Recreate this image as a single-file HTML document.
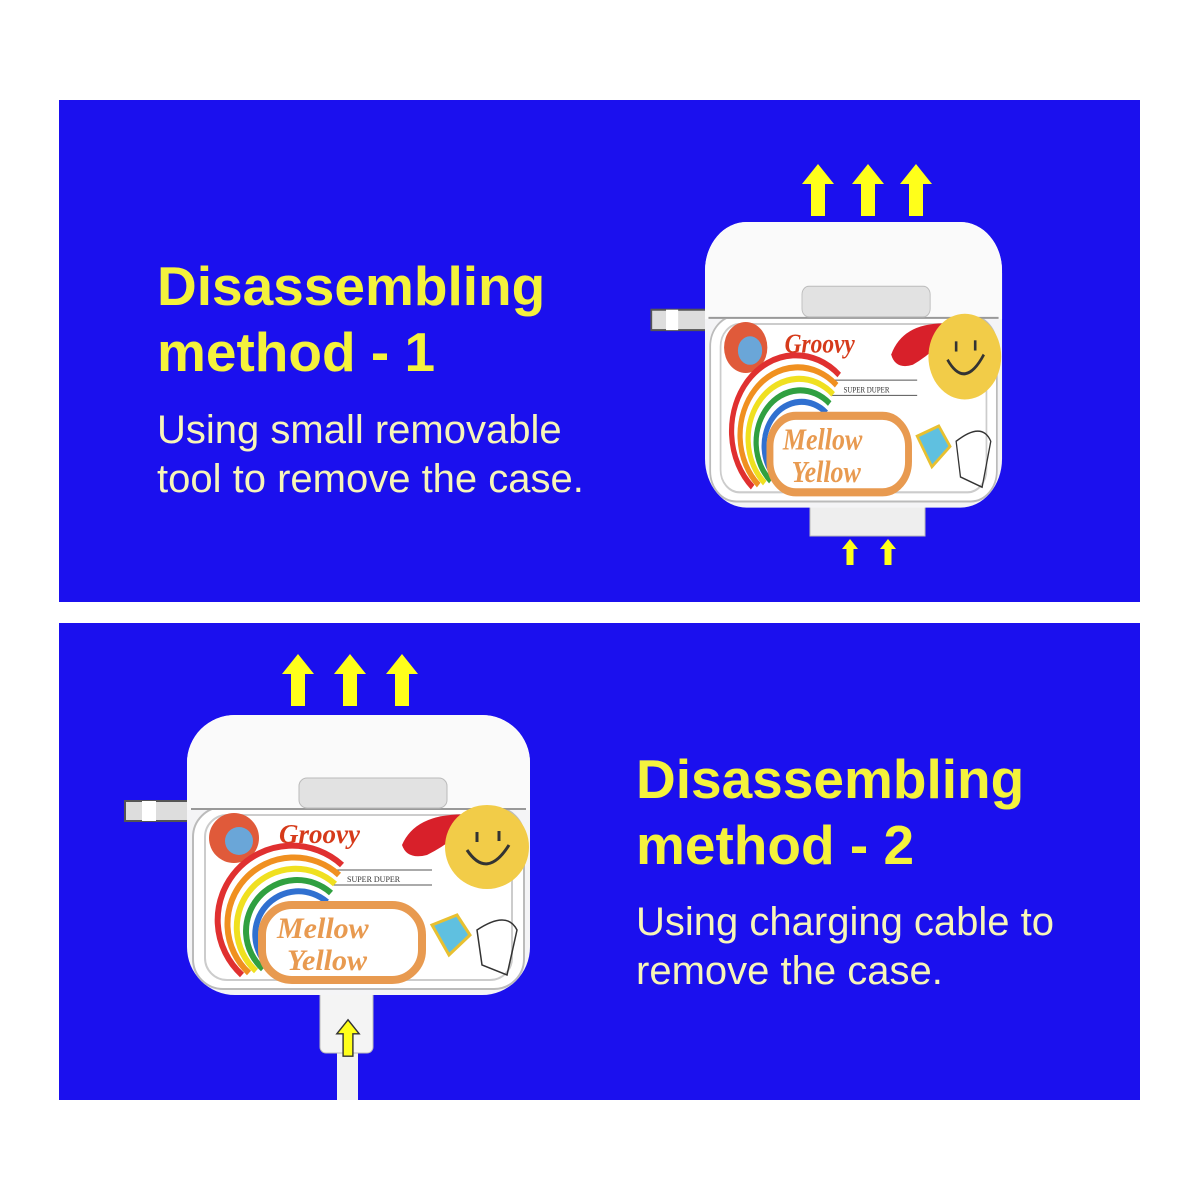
<!DOCTYPE html>
<html><head><meta charset="utf-8"><style>
html,body{margin:0;padding:0;background:#fff;width:1200px;height:1200px;overflow:hidden;position:relative;font-family:"Liberation Sans",sans-serif}
.panel{position:absolute;left:59px;width:1081px;background:#1b10ee}
.t{position:absolute;color:#f4f23c;font-weight:bold;font-size:55px;line-height:66px;white-space:nowrap}
.s{position:absolute;color:#f7f5b8;font-size:40px;line-height:49px;white-space:nowrap;letter-spacing:0}
svg{position:absolute;overflow:visible}
</style></head><body>
<div class="panel" style="top:100px;height:502px"></div>
<div class="panel" style="top:623px;height:477px"></div>

<div class="t" style="left:157px;top:253px">Disassembling<br>method - 1</div>
<div class="s" style="left:157px;top:406px">Using small removable<br>tool to remove the case.</div>
<div class="t" style="left:636px;top:746px">Disassembling<br>method - 2</div>
<div class="s" style="left:636px;top:898px">Using charging cable to<br>remove the case.</div>

<svg width="0" height="0"><defs>
<g id="arrow"><path d="M0,-26 L-16,-6 L-7,-6 L-7,26 L7,26 L7,-6 L16,-6 Z" fill="#ffff1a"/></g>
<g id="case">
 <rect x="-62" y="86" width="66" height="20" fill="#ddd" stroke="#555" stroke-width="2"/>
 <rect x="-45" y="86" width="14" height="20" fill="#fff"/>
 <rect x="0" y="0" width="343" height="280" rx="48" fill="#f4f4f6"/>
 <rect x="6" y="92" width="331" height="182" rx="30" fill="#fff" stroke="#bbb" stroke-width="2"/>
 <rect x="18" y="100" width="307" height="165" rx="22" fill="none" stroke="#ccc" stroke-width="2"/>
 <rect x="0" y="0" width="343" height="95" rx="48" fill="#fafafa"/>
 <rect x="0" y="50" width="343" height="45" fill="#fafafa"/>
 <line x1="4" y1="94" x2="339" y2="94" stroke="#999" stroke-width="2"/>
 <rect x="112" y="63" width="148" height="30" rx="8" fill="#e2e2e2" stroke="#bbb"/>
 <circle cx="47" cy="123" r="25" fill="#e05a3a"/><circle cx="52" cy="126" r="14" fill="#6aa6d8"/>
 <text x="92" y="128" font-family="Liberation Serif,serif" font-style="italic" font-weight="bold" font-size="27" fill="#d63a1a">Groovy</text>
 <path d="M215,130 Q230,95 290,100 Q270,125 240,140 Q220,145 215,130Z" fill="#d8202a"/>
 <circle cx="300" cy="132" r="42" fill="#f2cc48"/>
 <path d="M280,135 Q300,165 322,130" stroke="#333" stroke-width="3" fill="none"/>
 <line x1="290" y1="117" x2="290" y2="127" stroke="#333" stroke-width="3"/><line x1="312" y1="116" x2="312" y2="126" stroke="#333" stroke-width="3"/>
 <line x1="145" y1="155" x2="245" y2="155" stroke="#555"/><line x1="145" y1="170" x2="245" y2="170" stroke="#555"/>
 <text x="160" y="167" font-family="Liberation Serif,serif" font-size="8" fill="#333">SUPER  DUPER</text>
 <path d="M55,260 A62,62 0 0 1 155,150" stroke="#e03030" stroke-width="6" fill="none"/>
 <path d="M62,258 A55,55 0 0 1 152,160" stroke="#f09020" stroke-width="6" fill="none"/>
 <path d="M69,256 A48,48 0 0 1 148,169" stroke="#f0e020" stroke-width="6" fill="none"/>
 <path d="M76,254 A41,41 0 0 1 144,178" stroke="#30a040" stroke-width="6" fill="none"/>
 <path d="M83,252 A34,34 0 0 1 140,187" stroke="#3070d0" stroke-width="6" fill="none"/>
 <rect x="75" y="190" width="160" height="75" rx="30" fill="#fff" stroke="#e89a50" stroke-width="8"/>
 <text x="90" y="223" font-family="Liberation Serif,serif" font-style="italic" font-weight="bold" font-size="30" fill="#e89a50">Mellow</text>
 <text x="100" y="255" font-family="Liberation Serif,serif" font-style="italic" font-weight="bold" font-size="30" fill="#e89a50">Yellow</text>
 <path d="M245,210 L270,200 L283,220 L262,240Z" fill="#5fc0e0" stroke="#e8c030" stroke-width="3"/>
 <path d="M290,215 Q320,195 330,215 L320,260 L295,250Z" fill="none" stroke="#333" stroke-width="1.5"/>
</g>
</defs></svg>

<svg style="left:0;top:0" width="1200" height="1200">
 <use href="#arrow" x="818" y="190"/><use href="#arrow" x="868" y="190"/><use href="#arrow" x="916" y="190"/>
 <g transform="translate(810,500)"><rect width="115" height="36" fill="#eee" stroke="#bbb"/></g>
 <g transform="translate(705,222) scale(0.866,1.02)"><use href="#case"/></g>
 <g transform="translate(850,552) scale(0.5)"><use href="#arrow"/></g>
 <g transform="translate(888,552) scale(0.5)"><use href="#arrow"/></g>

 <use href="#arrow" x="298" y="680"/><use href="#arrow" x="350" y="680"/><use href="#arrow" x="402" y="680"/>
 <rect x="337" y="1040" width="21" height="60" fill="#f2f2f2"/>
 <rect x="320" y="985" width="53" height="68" rx="6" fill="#f4f4f4" stroke="#bbb"/>
 <g transform="translate(187,715)"><use href="#case"/></g>
 <g transform="translate(348,1038) scale(0.7)"><path d="M0,-26 L-16,-6 L-7,-6 L-7,26 L7,26 L7,-6 L16,-6 Z" fill="#ffff1a" stroke="#333" stroke-width="2"/></g>
</svg>
</body></html>
